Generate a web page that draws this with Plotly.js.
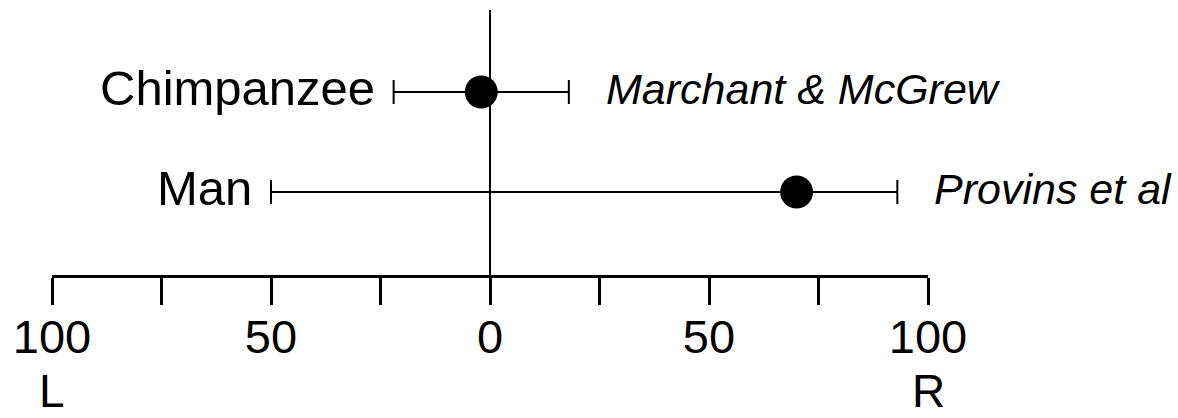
<!DOCTYPE html>
<html><head><meta charset="utf-8">
<script src="https://cdn.plot.ly/plotly-3.0.1.min.js"></script>
<style>html,body{margin:0;padding:0;background:#fff}#chart{width:1178px;height:418px}</style>
</head><body><div id="chart"></div>
<script>
const species = ['Chimpanzee', 'Man'];
const sources = ['Marchant & McGrew', 'Provins et al'];
const rowPos = [1, 0];
const meanPref = [-2, 70];
const errPlus = [20, 23];
const errMinus = [20, 120];
const tickVals = [-100, -75, -50, -25, 0, 25, 50, 75, 100];
const tickLabels = ['100', '', '50', '', '0', '', '50', '', '100'];
const sideLabels = ['L', 'R'];
const sideVals = [-100, 100];

const FONT = 'Liberation Sans, Arial, Helvetica, sans-serif';

const trace = {
  type: 'scatter', mode: 'markers',
  x: meanPref, y: rowPos,
  marker: {size: 33, color: '#000'},
  error_x: {type: 'data', symmetric: false, array: errPlus, arrayminus: errMinus,
            color: '#000', thickness: 2, width: 12},
  cliponaxis: false, hoverinfo: 'skip', showlegend: false
};

const annotations = [];
species.forEach((s, i) => {
  annotations.push({x: meanPref[i] - errMinus[i], y: rowPos[i], xref: 'x', yref: 'y',
    text: s, showarrow: false, xanchor: 'right', yanchor: 'middle', xshift: -17, yshift: 4,
    font: {family: FONT, size: 49, color: '#000'}});
  annotations.push({x: meanPref[i] + errPlus[i], y: rowPos[i], xref: 'x', yref: 'y',
    text: '<i>' + sources[i] + '</i>', showarrow: false, xanchor: 'left', yanchor: 'middle', xshift: 35, yshift: 3,
    font: {family: FONT, size: 43, color: '#000'}});
});
sideLabels.forEach((t, i) => {
  annotations.push({x: sideVals[i], y: -0.438, xref: 'x', yref: 'paper',
    text: t, showarrow: false, xanchor: 'center', yanchor: 'middle', borderpad: 0,
    font: {family: FONT, size: 46, color: '#000'}});
});

const layout = {
  width: 1178, height: 418,
  margin: {l: 52, r: 250, t: 10, b: 143, pad: 0},
  paper_bgcolor: '#fff', plot_bgcolor: '#fff',
  showlegend: false,
  xaxis: {range: [-100, 100], showgrid: false, zeroline: true, zerolinecolor: '#000', zerolinewidth: 2,
          showline: true, linecolor: '#000', linewidth: 3,
          ticks: 'outside', ticklen: 27, tickwidth: 3, tickcolor: '#000',
          tickmode: 'array', tickvals: tickVals, ticktext: tickLabels, ticklabelstandoff: -8,
          tickfont: {family: FONT, size: 47, color: '#000'}, fixedrange: true},
  yaxis: {range: [-0.83, 1.82], visible: false, fixedrange: true},
  annotations: annotations
};

Plotly.newPlot('chart', [trace], layout, {staticPlot: true, displayModeBar: false});
</script></body></html>
